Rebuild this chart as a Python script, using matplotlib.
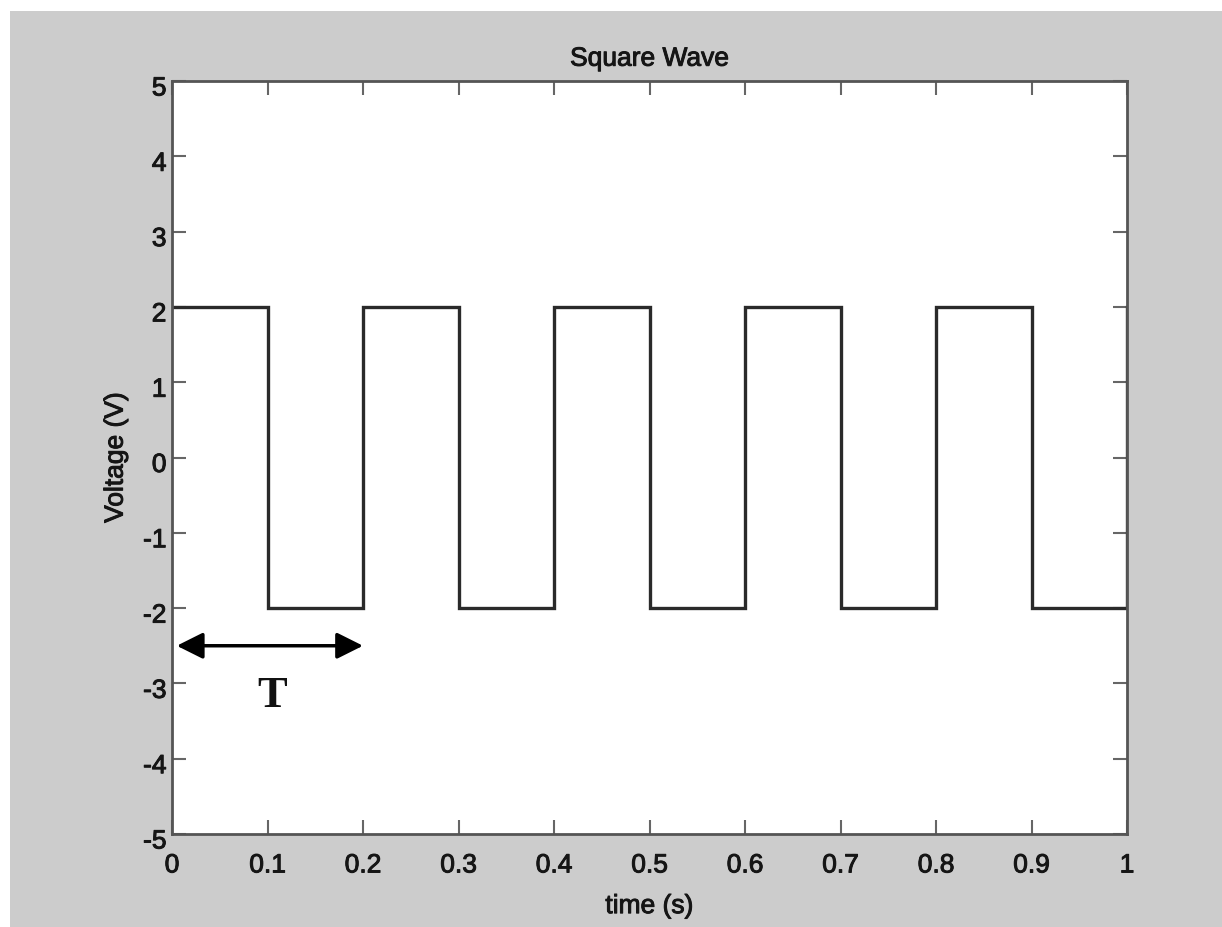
import matplotlib
matplotlib.use('Agg')
import matplotlib.pyplot as plt
import matplotlib.transforms as mtransforms
import matplotlib.patheffects as pe
from matplotlib.patches import Rectangle

# square wave: level held from each time until the next one
t = [0.0, 0.1, 0.2, 0.3, 0.4, 0.5, 0.6, 0.7, 0.8, 0.9, 1.0]
v = [2, -2, 2, -2, 2, -2, 2, -2, 2, -2, 2]

xticks = [0, 0.1, 0.2, 0.3, 0.4, 0.5, 0.6, 0.7, 0.8, 0.9, 1]
xtick_labels = ['0', '0.1', '0.2', '0.3', '0.4', '0.5', '0.6', '0.7', '0.8', '0.9', '1']
yticks = [-5, -4, -3, -2, -1, 0, 1, 2, 3, 4, 5]

# period marker
period_start = 0.005
period_end = 0.2
period_level = -2.5
period_label_y = -3.15

plt.rcParams['font.family'] = ['Liberation Sans', 'DejaVu Sans']
plt.rcParams['axes.unicode_minus'] = False

txt_col = '#151515'
# slightly heavier text, like the blurry original
heavy = [pe.withStroke(linewidth=0.7, foreground=txt_col)]

fig = plt.figure(figsize=(12.22, 9.28), dpi=100, facecolor='#cccccc')
# thin white strips at the top and left of the grey background
fig.patches.append(Rectangle((0, 1 - 12 / 928), 1, 12 / 928, transform=fig.transFigure,
                             facecolor='white', edgecolor='none', zorder=-5))
fig.patches.append(Rectangle((0, 0), 10 / 1222, 1, transform=fig.transFigure,
                             facecolor='white', edgecolor='none', zorder=-5))

ax = fig.add_axes([172 / 1222, 1 - 835 / 928, (1127 - 172) / 1222, (835 - 82) / 928])
ax.set_facecolor('white')

ax.plot(t, v, drawstyle='steps-post', color='#2a2a2a', linewidth=2.4, solid_joinstyle='miter')

ax.set_xlim(0, 1)
ax.set_ylim(-5, 5)
ax.set_xticks(xticks)
ax.set_xticklabels(xtick_labels)
ax.set_yticks(yticks)

ax.tick_params(direction='in', top=True, right=True, length=10, width=1.5,
               color='#666666', labelsize=19, labelcolor=txt_col)
ax.tick_params(axis='x', pad=14)
ax.tick_params(axis='y', pad=4)
# y labels sit a little below their ticks in the original
shift = mtransforms.ScaledTranslation(0, -5 / 100, fig.dpi_scale_trans)
for lab in ax.get_yticklabels():
    lab.set_transform(lab.get_transform() + shift)
for lab in ax.get_xticklabels() + ax.get_yticklabels():
    lab.set_path_effects(heavy)

for s in ax.spines.values():
    s.set_color('#555555')
    s.set_linewidth(2)

ax.set_title('Square Wave', fontsize=19, color=txt_col, pad=11, path_effects=heavy)
ax.set_xlabel('time (s)', fontsize=19, color=txt_col, labelpad=12, path_effects=heavy)
ax.set_ylabel('Voltage (V)', fontsize=19, color=txt_col, labelpad=11, path_effects=heavy)

ax.annotate('', xy=(period_end, period_level), xytext=(period_start, period_level),
            arrowprops=dict(arrowstyle='<|-|>', color='black', lw=2.5,
                            mutation_scale=40, shrinkA=0, shrinkB=0))
ax.text((period_start + period_end) / 2 + 0.0025, period_label_y, 'T', fontsize=32, fontweight='bold',
        family=['Liberation Serif', 'DejaVu Serif'], ha='center', va='center', color='#111111')

fig.savefig('out.png', dpi=100, facecolor=fig.get_facecolor())
